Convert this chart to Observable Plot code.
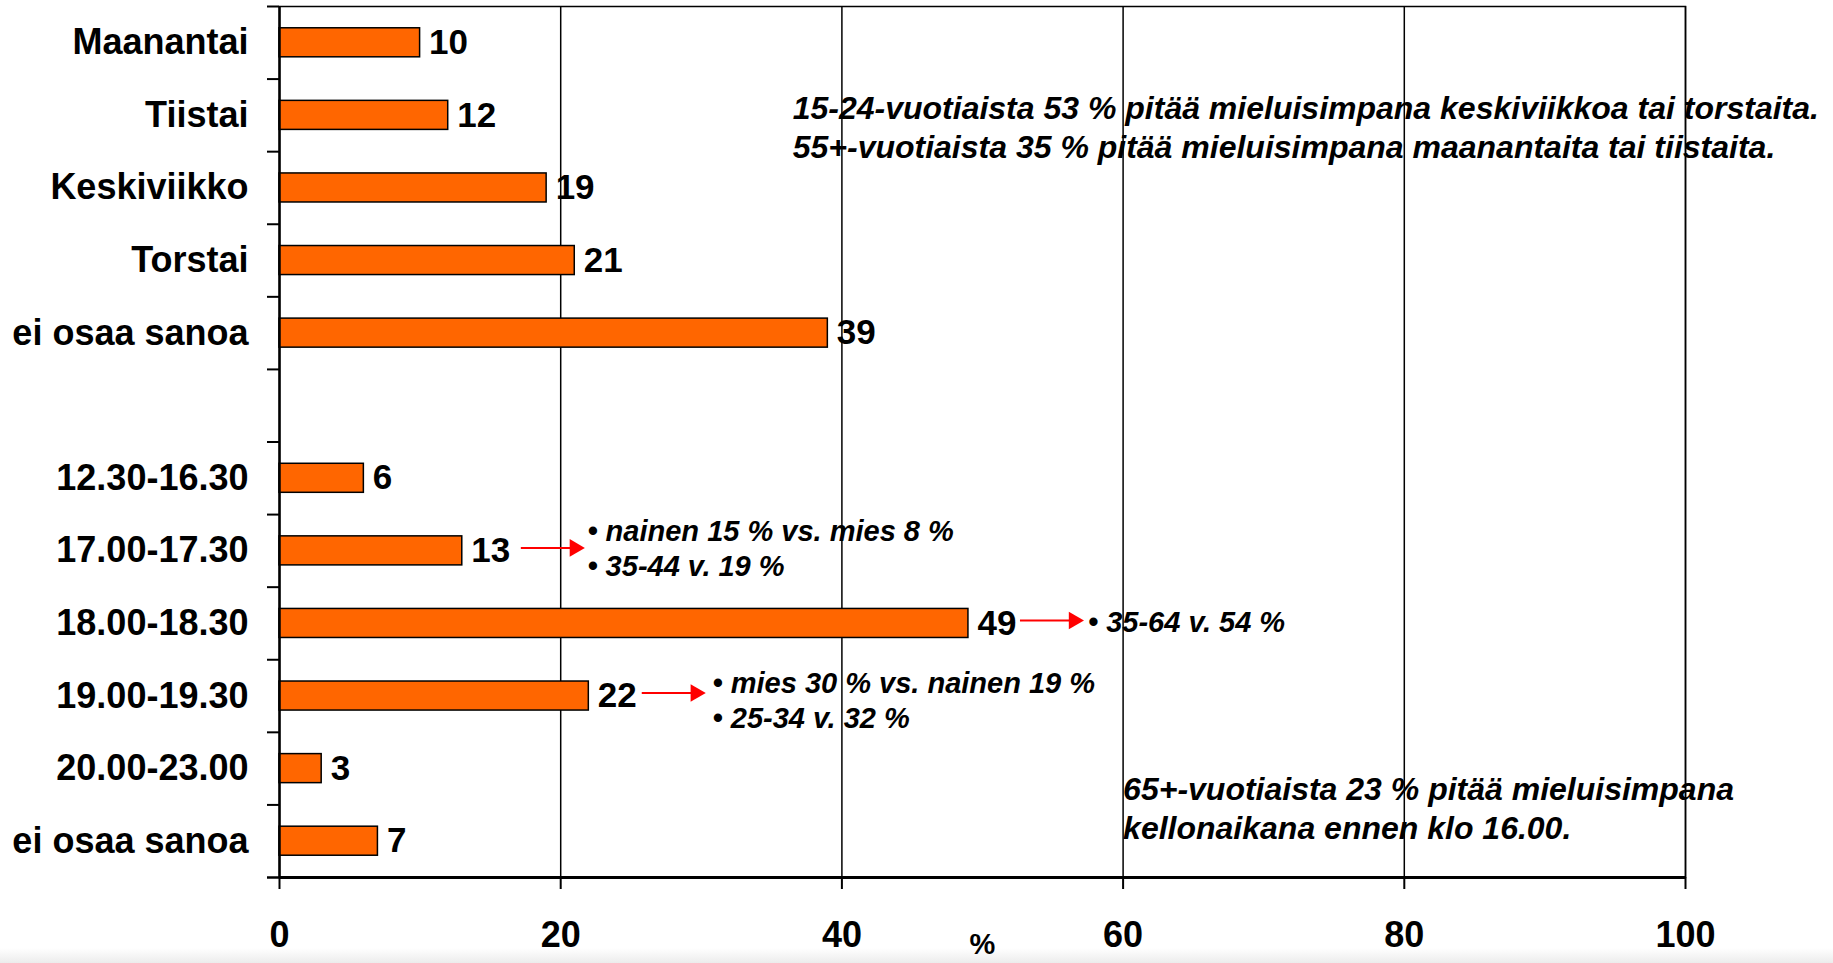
<!DOCTYPE html>
<html>
<head>
<meta charset="utf-8">
<script src="https://cdn.jsdelivr.net/npm/d3@7"></script>
<script src="https://cdn.jsdelivr.net/npm/@observablehq/plot@0.6"></script>
<style>
  html, body { margin: 0; padding: 0; }
  body { width: 1833px; height: 963px; overflow: hidden;
         background: linear-gradient(to bottom, #ffffff 0px, #ffffff 948px, #ececec 963px); }
  #chart svg { background: transparent; display: block; }
</style>
</head>
<body>
<div id="chart"></div>
<script>
// ---- data ----
const days = ["Maanantai", "Tiistai", "Keskiviikko", "Torstai", "ei osaa sanoa"];
const dayValues = [10, 12, 19, 21, 39];
const times = ["12.30-16.30", "17.00-17.30", "18.00-18.30", "19.00-19.30", "20.00-23.00", "ei osaa sanoa"];
const timeValues = [6, 13, 49, 22, 3, 7];
const xTicks = [0, 20, 40, 60, 80, 100];

// side notes for time slots (arrow from -> to in % units, text starts at textX)
const noteSlots = ["17.00-17.30", "18.00-18.30", "19.00-19.30"];
const noteArrowFrom = [17.2, 52.7, 25.8];
const noteArrowTo = [21.0, 56.5, 29.6];
const noteTextX = [21.9, 57.5, 30.8];
const noteLines = [
  ["• nainen 15 % vs. mies 8 %", "• 35-44 v. 19 %"],
  ["• 35-64 v. 54 %"],
  ["• mies 30 % vs. nainen 19 %", "• 25-34 v. 32 %"]
];
const topNote = ["15-24-vuotiaista 53 % pitää mieluisimpana keskiviikkoa tai torstaita.",
                 "55+-vuotiaista 35 % pitää mieluisimpana maanantaita tai tiistaita."];
const topNoteX = 36.5;
const bottomNote = ["65+-vuotiaista 23 % pitää mieluisimpana", "kellonaikana ennen klo 16.00."];
const bottomNoteX = 60.0;

// ---- build table ----
const GAP = "gap";
const rows = [
  ...days.map((d, i) => ({key: "d:" + d, label: d, value: dayValues[i]})),
  ...times.map((t, i) => ({key: "t:" + t, label: t, value: timeValues[i]}))
];
const yDomain = [...rows.slice(0, days.length).map(r => r.key), GAP, ...rows.slice(days.length).map(r => r.key)];
const labelOf = new Map(rows.map(r => [r.key, r.label]));

const arrows = noteSlots.map((s, i) => ({key: "t:" + s, x1: noteArrowFrom[i], x2: noteArrowTo[i]}));
const noteTexts = noteSlots.map((s, i) => ({key: "t:" + s, x: noteTextX[i], text: noteLines[i].join("\n")}));

const font = "'Liberation Sans', Arial, sans-serif";
const step = 871 / yDomain.length;
const noteDy = [-4, -3, 3];

const italicNote = {textAnchor: "start", fontWeight: "bold", fontStyle: "italic", lineAnchor: "middle"};

const chart = Plot.plot({
  width: 1833,
  height: 963,
  marginLeft: 279,
  marginRight: 148,
  marginTop: 6,
  marginBottom: 86,
  style: {fontFamily: font, color: "black", background: "transparent"},
  x: {domain: [0, 100]},
  y: {domain: yDomain, paddingInner: 0.6, paddingOuter: 0.3, round: false},
  marks: [
    Plot.gridX(xTicks.slice(1), {stroke: "black", strokeOpacity: 1, strokeWidth: 1.5}),
    Plot.frame({stroke: "black", strokeWidth: 1.5}),
    Plot.barX(rows, {x: "value", y: "key", fill: "#FF6600", stroke: "black", strokeWidth: 1.5}),
    Plot.ruleX([0], {stroke: "black", strokeWidth: 2.5}),
    Plot.ruleY([yDomain[yDomain.length - 1]], {x1: 0, x2: 100, dy: step / 2, stroke: "black", strokeWidth: 3}),
    Plot.axisY({tickSize: 0, tickPadding: 31, tickFormat: k => labelOf.get(k) || "",
      fontSize: 36, fontWeight: "bold", label: null}),
    Plot.axisY({tickSize: 12, tickFormat: () => "", dy: -step / 2, label: null, strokeWidth: 2}),
    Plot.axisY({ticks: [yDomain[yDomain.length - 1]], tickSize: 12, tickFormat: () => "", dy: step / 2,
      label: null, strokeWidth: 2.5}),
    Plot.axisX({ticks: xTicks, tickSize: 12, tickPadding: 32, fontSize: 36, fontWeight: "bold",
      label: null, strokeWidth: 2}),
    Plot.text(["%"], {frameAnchor: "bottom", dy: 76, fontSize: 29, fontWeight: "bold"}),
    Plot.text(rows, {x: "value", y: "key", text: d => String(d.value), textAnchor: "start", dx: 9,
      fontSize: 35, fontWeight: "bold", fill: "black"}),
    Plot.ruleY(arrows, {y: "key", x1: "x1", x2: "x2", stroke: "#FF0000", strokeWidth: 2, dy: -3}),
    Plot.dot(arrows, {y: "key", x: "x2", symbol: "triangle", rotate: 90, r: 6.5, fill: "#FF0000", dy: -3}),
    ...noteTexts.map((n, i) => Plot.text([n], {x: "x", y: "key", text: "text", dy: noteDy[i],
      lineHeight: 1.22, fontSize: 29, ...italicNote})),
    Plot.text([topNote.join("\n")], {x: () => topNoteX, y: () => "d:Tiistai", text: d => d, dy: 11,
      lineHeight: 1.2, fontSize: 32, ...italicNote}),
    Plot.text([bottomNote.join("\n")], {x: () => bottomNoteX, y: () => "t:20.00-23.00", text: d => d, dy: 38,
      lineHeight: 1.23, fontSize: 32, ...italicNote})
  ]
});

document.getElementById("chart").append(chart);
</script>
</body>
</html>
